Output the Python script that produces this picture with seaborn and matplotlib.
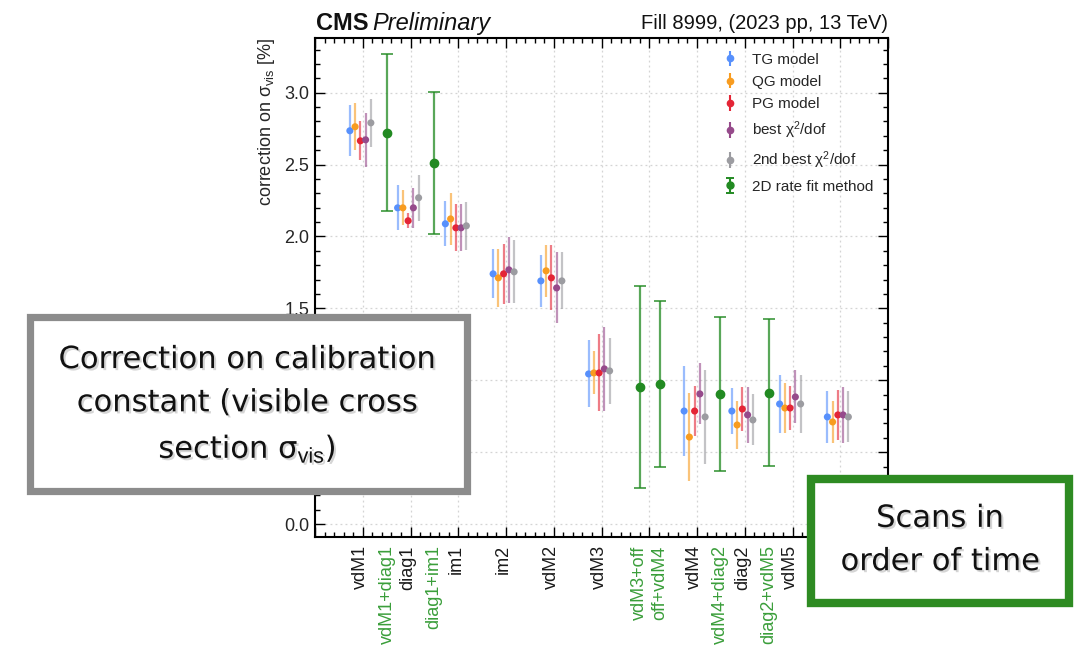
import numpy as np
import pandas as pd
import matplotlib
matplotlib.use("Agg")
import matplotlib.pyplot as plt
import matplotlib.patheffects as pe
from matplotlib.patches import Rectangle
from matplotlib.ticker import MultipleLocator
from matplotlib.colors import to_rgba
import seaborn as sns

# ---- data -------------------------------------------------------------
scans = ["vdM1", "diag1", "im1", "im2", "vdM2", "vdM3", "vdM4", "diag2", "vdM5", ""]
scan_pos = [0.95, 1.95, 2.95, 3.95, 4.95, 5.95, 7.95, 8.95, 9.95, 10.95]

models = ["TG model", "QG model", "PG model",
          "best χ$^2$/dof", "2nd best χ$^2$/dof"]

tg = [2.735, 2.199, 2.088, 1.740, 1.691, 1.044, 0.786, 0.786, 0.835, 0.745]
tg_err = [0.178, 0.157, 0.157, 0.170, 0.181, 0.233, 0.313, 0.160, 0.205, 0.181]
qg = [2.763, 2.199, 2.122, 1.712, 1.761, 1.051, 0.605, 0.689, 0.807, 0.710]
qg_err = [0.163, 0.122, 0.181, 0.200, 0.181, 0.150, 0.303, 0.170, 0.177, 0.143]
pg = [2.665, 2.109, 2.060, 1.740, 1.712, 1.051, 0.786, 0.800, 0.807, 0.759]
pg_err = [0.136, 0.052, 0.164, 0.209, 0.226, 0.268, 0.174, 0.153, 0.150, 0.174]
best = [2.672, 2.199, 2.060, 1.768, 1.642, 1.079, 0.905, 0.759, 0.884, 0.759]
best_err = [0.188, 0.139, 0.164, 0.230, 0.247, 0.292, 0.212, 0.195, 0.184, 0.195]
second = [2.790, 2.269, 2.074, 1.754, 1.691, 1.065, 0.745, 0.724, 0.835, 0.745]
second_err = [0.167, 0.160, 0.167, 0.219, 0.198, 0.230, 0.324, 0.177, 0.202, 0.177]

rate_label = "2D rate fit method"
rate_scans = ["vdM1+diag1", "diag1+im1", "vdM3+off", "off+vdM4", "vdM4+diag2", "diag2+vdM5"]
rate_pos = [1.51, 2.49, 6.80, 7.22, 8.49, 9.50]
rate = [2.721, 2.512, 0.953, 0.974, 0.905, 0.912]
rate_err = [0.546, 0.494, 0.703, 0.578, 0.536, 0.511]

# y tick labels (0.5 and 1.0 sit behind the left callout box)
y_ticks = [0.0, 0.5, 1.0, 1.5, 2.0, 2.5, 3.0]
y_tick_labels = ["0.0", "", "", "1.5", "2.0", "2.5", "3.0"]

# ---- style ------------------------------------------------------------
model_colors = ["#5790fc", "#f89c20", "#e42536", "#964a8b", "#9c9ca1"]
rate_color = "#228a22"
label_green = "#3a9e3a"
offsets = [-0.22, -0.11, 0.0, 0.11, 0.22]

sns.set_theme(style="ticks")
plt.rcParams["font.family"] = ["Liberation Sans", "DejaVu Sans"]
plt.rcParams["mathtext.fontset"] = "custom"
plt.rcParams["mathtext.rm"] = "Liberation Sans"
plt.rcParams["mathtext.it"] = "Liberation Sans:italic"
plt.rcParams["mathtext.bf"] = "Liberation Sans:bold"

values = [tg, qg, pg, best, second]
errors = [tg_err, qg_err, pg_err, best_err, second_err]

rows = []
for name, off, vals, errs in zip(models, offsets, values, errors):
    for p, v, e in zip(scan_pos, vals, errs):
        rows.append({"x": p + off, "y": v, "err": e, "model": name})
df = pd.DataFrame(rows)

W, H = 1077, 646
fig = plt.figure(figsize=(W / 100, H / 100), dpi=100)
ax = fig.add_axes([315 / W, 1 - 537 / H, (888 - 315) / W, (537 - 38) / H])

# error bars of the model fits
for name, col in zip(models, model_colors):
    sub = df[df["model"] == name]
    ax.errorbar(sub["x"], sub["y"], yerr=sub["err"], fmt="none",
                ecolor=to_rgba(col, 0.6), elinewidth=1.6, zorder=3)

# model central values
sns.scatterplot(data=df, x="x", y="y", hue="model", hue_order=models,
                palette=model_colors, s=26, linewidth=0, legend=False,
                ax=ax, zorder=4)

# 2D rate fit results
ax.errorbar(rate_pos, rate, yerr=rate_err, fmt="o", color=rate_color,
            ms=6, ecolor=to_rgba(rate_color, 0.75), elinewidth=1.6,
            capsize=4, capthick=1.4, zorder=5)

# legend proxies
handles = []
for name, col in zip(models, model_colors):
    h = ax.errorbar([np.nan], [np.nan], yerr=[np.nan], fmt="o", color=col,
                    ms=4.5, elinewidth=1.5)
    handles.append(h)
h = ax.errorbar([np.nan], [np.nan], yerr=[np.nan], fmt="o", color=rate_color,
                ms=5, elinewidth=1.5, capsize=3, capthick=1.4)
handles.append(h)
ax.legend(handles, models + [rate_label], loc="upper right", frameon=False,
          fontsize=11, handlelength=1.2, handletextpad=0.85,
          labelspacing=0.55, borderaxespad=0.55)

# axes
ax.set_xlim(0, 12)
ax.set_ylim(-0.09, 3.38)
ax.set_xticks(np.arange(0, 13, 1))
ax.xaxis.set_minor_locator(MultipleLocator(0.2))
ax.set_yticks(y_ticks, y_tick_labels)
ax.yaxis.set_minor_locator(MultipleLocator(0.1))
ax.tick_params(which="both", direction="in", top=True, right=True,
               labelbottom=False, color="black", width=1.0)
ax.tick_params(which="major", length=7)
ax.tick_params(which="minor", length=3.5)
ax.tick_params(axis="y", labelsize=13, pad=4)
ax.set_xlabel("")
ax.set_ylabel("correction on σ$_{\\mathrm{vis}}$ [%]", fontsize=13,
              loc="top", labelpad=5)
for s in ax.spines.values():
    s.set_color("black")
    s.set_linewidth(1.5)
ax.grid(which="major", linestyle=(0, (1.5, 2.5)), color="#d4d4d4", linewidth=0.9)
ax.set_axisbelow(True)

# scan labels along the time axis
sec = ax.secondary_xaxis("bottom")
tick_pos = scan_pos + rate_pos
tick_lab = scans + rate_scans
tick_col = ["#1a1a1a"] * len(scans) + [label_green] * len(rate_scans)
sec.set_xticks(tick_pos, tick_lab, rotation=90)
sec.tick_params(length=0, pad=6, labelsize=13)
sec.spines["bottom"].set_visible(False)
for lbl, col in zip(sec.get_xticklabels(), tick_col):
    lbl.set_color(col)

# header
fig.text(316 / W, 1 - 30 / H, "CMS", fontsize=17, fontweight="bold",
         va="baseline", ha="left", color="#111111")
fig.text(372 / W, 1 - 30 / H, "Preliminary", fontsize=17, style="italic",
         va="baseline", ha="left", color="#111111")
fig.text(888 / W, 1 - 29 / H, "Fill 8999, (2023 pp, 13 TeV)", fontsize=14.5,
         va="baseline", ha="right", color="#111111")

# callout boxes
shadow = [pe.withSimplePatchShadow(offset=(1.5, -1.5), shadow_rgbFace="#888888",
                                   alpha=0.35)]
fig.patches.append(Rectangle((29.5 / W, 1 - 490.5 / H), 437 / W, 174 / H,
                             transform=fig.transFigure, facecolor="white",
                             edgecolor="#8c8c8c", linewidth=5.2, zorder=10))
fig.text(247 / W, 1 - 405 / H,
         "Correction on calibration\nconstant (visible cross\nsection σ$_{\\mathrm{vis}}$)",
         fontsize=22, family="DejaVu Sans", ha="center", va="center",
         linespacing=1.62, zorder=11, color="#111111", path_effects=shadow)

fig.patches.append(Rectangle((811 / W, 1 - 603 / H), 258 / W, 124 / H,
                             transform=fig.transFigure, facecolor="white",
                             edgecolor="#2e8b22", linewidth=6, zorder=10))
fig.text(940 / W, 1 - 540 / H, "Scans in\norder of time",
         fontsize=22, family="DejaVu Sans", ha="center", va="center",
         linespacing=1.62, zorder=11, color="#111111", path_effects=shadow)

fig.savefig("out.png", dpi=100)
